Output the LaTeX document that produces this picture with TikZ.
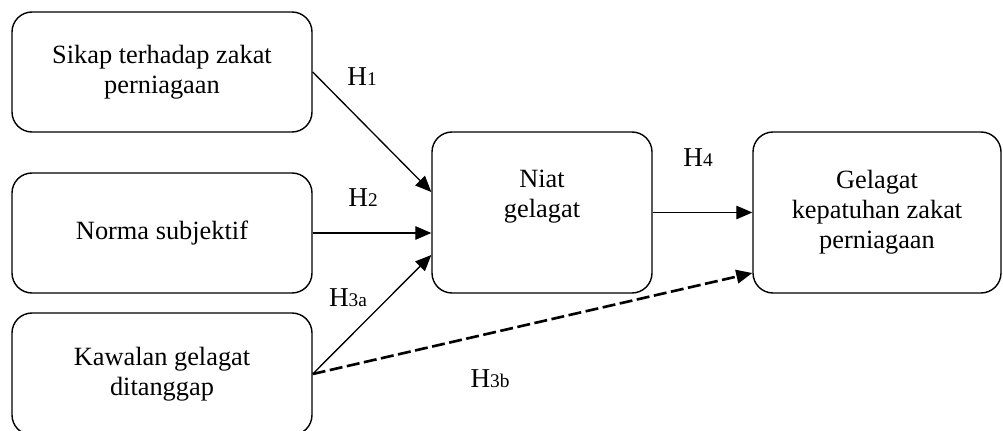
\documentclass[tikz,border=0pt]{standalone}
\usepackage{fontspec}
\setmainfont{Liberation Serif}
\usetikzlibrary{shapes,arrows.meta}
\tikzstyle{line} = [draw, line width=0.75pt, -{Triangle[length=0.32cm,width=0.27cm]}]
\tikzstyle{box} = [draw, line width=0.8pt, rounded corners=0.4cm, align=center, font=\fontsize{15}{17}\selectfont]
\newcommand{\hyp}[1]{{\fontsize{15.5}{17}\selectfont H}{\fontsize{11}{13}\selectfont #1}}

\begin{document}
\begin{tikzpicture}
\clip (0,0) rectangle (20.06,8.6);
\node (sikap) at (3.24,7.16) [box, minimum width=6cm, minimum height=2.4cm] {Sikap terhadap zakat\\perniagaan};
\node (norma) at (3.24,3.94) [box, minimum width=6cm, minimum height=2.4cm] {Norma subjektif};
\node (kawalan) at (3.24,1.12) [box, minimum width=6cm, minimum height=2.44cm] {Kawalan gelagat\\ditanggap};
\node (niat) at (10.84,4.35) [box, minimum width=4.4cm, minimum height=3.22cm, text depth=0.76cm] {Niat\\gelagat};
\node (gelagat) at (17.54,4.35) [box, minimum width=4.96cm, minimum height=3.22cm] {Gelagat\\kepatuhan zakat\\perniagaan};
\node (h1) at (7.24,7.06) {\hyp{1}};
\node (h2) at (7.26,4.64) {\hyp{2}};
\node (h3a) at (6.96,2.64) {\hyp{3a}};
\node (h3b) at (9.8,1.02) {\hyp{3b}};
\node (h4) at (13.96,5.44) {\hyp{4}};
% draw lines
\path [line] (sikap.east) -- ([yshift=0.41cm]niat.west);
\path [line] (norma.east) -- (norma.east -| niat.west);
\path [line] (kawalan.east) -- ([yshift=-0.85cm]niat.west);
\path [line, line width=1.5pt, dash pattern=on 0.26cm off 0.09cm] (kawalan.east) -- ([yshift=-1.21cm]gelagat.west);
\path [line] (niat.east) -- (gelagat.west);
\end{tikzpicture}
\end{document}
